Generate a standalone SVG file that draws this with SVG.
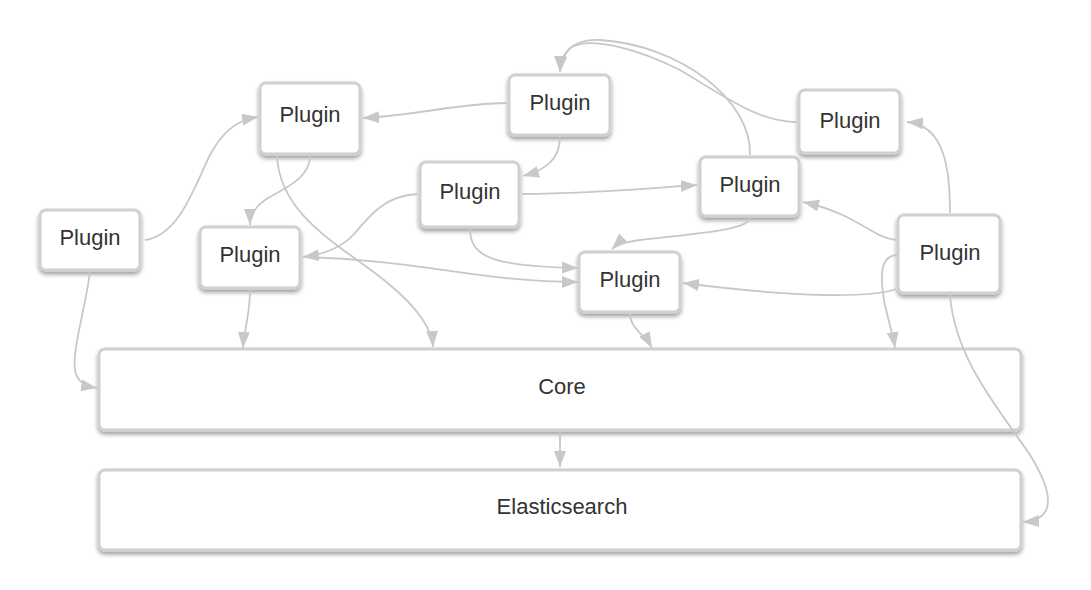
<svg xmlns="http://www.w3.org/2000/svg" width="1091" height="590" viewBox="0 0 1091 590">
<defs>
<filter id="sh" x="-20%" y="-20%" width="140%" height="150%">
<feDropShadow dx="0" dy="3" stdDeviation="2.2" flood-color="#000" flood-opacity="0.38"/>
</filter>
<marker id="ar" viewBox="0 0 16 12" refX="16" refY="6" markerWidth="16" markerHeight="12" markerUnits="userSpaceOnUse" orient="auto">
<path d="M0,0 L16,6 L0,12 z" fill="#c8c8c8"/>
</marker>
</defs>
<style>
.box{fill:#fff;stroke:#d0d0d0;stroke-width:3;filter:url(#sh)}
.lbl{font-family:"Liberation Sans",Arial,sans-serif;font-size:22px;fill:#333;text-anchor:middle;dominant-baseline:central}
.e{fill:none;stroke:#c8c8c8;stroke-width:1.8;marker-end:url(#ar)}
</style>
<rect width="1091" height="590" fill="#fff"/>
<g id="plugin1"><rect class="box" x="40" y="210" width="100" height="60" rx="6"/><text class="lbl" x="90" y="237">Plugin</text></g>
<g id="plugin2"><rect class="box" x="260" y="83" width="100" height="71" rx="6"/><text class="lbl" x="310" y="114">Plugin</text></g>
<g id="plugin3"><rect class="box" x="200" y="227" width="100" height="61" rx="6"/><text class="lbl" x="250" y="254">Plugin</text></g>
<g id="plugin4"><rect class="box" x="509" y="75" width="101" height="60" rx="6"/><text class="lbl" x="560" y="102">Plugin</text></g>
<g id="plugin5"><rect class="box" x="420" y="162" width="99" height="65" rx="6"/><text class="lbl" x="470" y="191">Plugin</text></g>
<g id="plugin6"><rect class="box" x="700" y="157" width="99" height="59" rx="6"/><text class="lbl" x="750" y="184">Plugin</text></g>
<g id="plugin7"><rect class="box" x="579" y="252" width="101" height="60" rx="6"/><text class="lbl" x="630" y="279">Plugin</text></g>
<g id="plugin8"><rect class="box" x="799" y="90" width="101" height="63" rx="6"/><text class="lbl" x="850" y="120">Plugin</text></g>
<g id="plugin9"><rect class="box" x="898" y="215" width="102" height="78" rx="6"/><text class="lbl" x="950" y="252">Plugin</text></g>
<g id="core"><rect class="box" x="99" y="349" width="922" height="81" rx="6"/><text class="lbl" x="562" y="386">Core</text></g>
<g id="elasticsearch"><rect class="box" x="99" y="470" width="922" height="80" rx="6"/><text class="lbl" x="562" y="506">Elasticsearch</text></g>
<g id="connectors">
<path class="e" d="M145,240 C180,235 195,185 210,155 C225,127 240,120 258,117"/>
<path class="e" d="M90,272 C85,310 72,350 75,370 C77,382 85,386 97,388"/>
<path class="e" d="M310,156 C310,180 280,190 265,200 C255,207 250,215 250,225"/>
<path class="e" d="M277,156 C280,220 350,250 390,285 C420,310 432,330 433,347"/>
<path class="e" d="M507,103 C460,103 420,115 363,118"/>
<path class="e" d="M560,137 C560,160 545,170 523,176"/>
<path class="e" d="M417,194 C385,196 370,215 355,233 C340,250 320,255 303,257"/>
<path class="e" d="M305,257 C420,260 480,282 578,282"/>
<path class="e" d="M470,229 C470,260 500,266 578,268"/>
<path class="e" d="M522,194 C600,193 650,188 697,185"/>
<path class="e" d="M750,218 C748,230 700,233 640,240 C625,242 615,246 612,249"/>
<path class="e" d="M750,155 C752,100 680,45 600,40 C575,39 562,50 560,72"/>
<path class="e" d="M797,122 C760,122 730,100 680,70 C640,50 590,35 570,48 C563,55 560,62 560,72"/>
<path class="e" d="M950,213 C950,170 945,125 907,122"/>
<path class="e" d="M896,240 C870,237 860,215 803,202"/>
<path class="e" d="M896,289 C870,298 800,298 683,283"/>
<path class="e" d="M897,255 C880,256 880,275 884,300 C888,320 893,335 895,348"/>
<path class="e" d="M950,295 C955,360 1000,410 1030,455 C1055,495 1055,520 1023,522"/>
<path class="e" d="M250,290 C250,315 244,330 243,348"/>
<path class="e" d="M630,314 C630,328 645,335 652,348"/>
<path class="e" d="M560,432 L560,467"/>
</g>
</svg>
